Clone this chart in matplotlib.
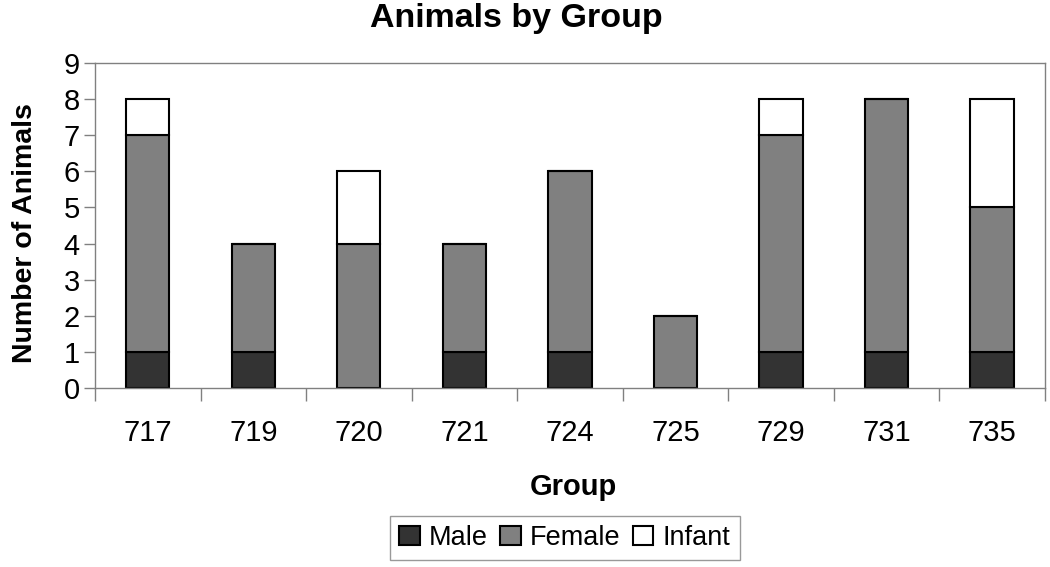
import numpy as np
import matplotlib.pyplot as plt

groups = ['717', '719', '720', '721', '724', '725', '729', '731', '735']
male = [1, 1, 0, 1, 1, 0, 1, 1, 1]
female = [6, 3, 4, 3, 5, 2, 6, 7, 4]
infant = [1, 0, 2, 0, 0, 0, 1, 0, 3]

plt.rcParams['font.family'] = ['Liberation Sans', 'DejaVu Sans']

fig = plt.figure(figsize=(10.5, 5.67), dpi=100)
ax = fig.add_axes([0.0905, 0.3157, 0.9045, 0.5733])

x = np.arange(len(groups))
w = 0.41
male = np.array(male)
female = np.array(female)
infant = np.array(infant)

kw = dict(width=w, edgecolor='black', linewidth=1.5)
ax.bar(x, male, color='#333333', label='Male', **kw)
ax.bar(x, female, bottom=male, color='#808080', label='Female', **kw)
ax.bar(x, infant, bottom=male + female, color='white', label='Infant', **kw)

ax.set_xlim(-0.5, len(groups) - 0.5)
ax.set_ylim(0, 9)
ax.set_yticks(range(10))
ax.set_xticks(x)
ax.set_xticklabels(groups)
ax.set_xticks(np.arange(-0.5, len(groups)), minor=True)
ax.tick_params(axis='x', which='major', length=0, pad=22, labelsize=21)
ax.tick_params(axis='x', which='minor', length=9, width=1, color='#808080')
ax.tick_params(axis='y', length=8, width=1, color='#808080', labelsize=21, pad=3)

for s in ax.spines.values():
    s.set_color('#808080')
    s.set_linewidth(1)

fig.text(516 / 1050, 1 - 27 / 567, 'Animals by Group', fontsize=24.5,
         fontweight='bold', ha='center', va='baseline')
fig.text(573 / 1050, 1 - 487 / 567, 'Group', fontsize=21,
         fontweight='bold', ha='center', va='center')
fig.text(25 / 1050, 1 - 233 / 567, 'Number of Animals', fontsize=20.5,
         fontweight='bold', ha='center', va='center', rotation=90)

leg = ax.legend(loc='center', bbox_to_anchor=(565 / 1050, 1 - 538 / 567),
                bbox_transform=fig.transFigure, ncol=3, fontsize=19.5,
                frameon=True, fancybox=False, edgecolor='#808080',
                handlelength=0.75, handleheight=0.75, handletextpad=0.35,
                columnspacing=0.45, borderpad=0.35)
leg.get_frame().set_linewidth(1)

fig.savefig('out.png', dpi=100)
